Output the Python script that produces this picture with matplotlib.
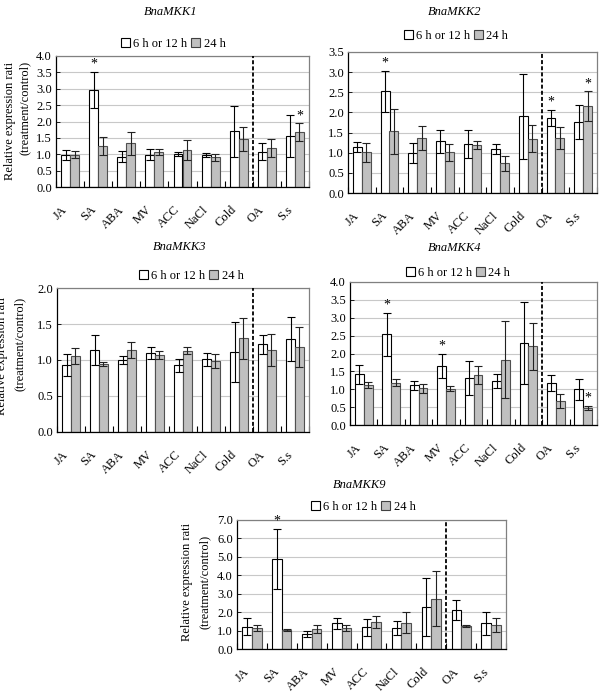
import numpy as np
import matplotlib.pyplot as plt
from matplotlib.patches import Patch

plt.rcParams["font.family"] = ["Liberation Serif", "DejaVu Serif"]
plt.rcParams["font.size"] = 9

# Daten
treatments = ["JA", "SA", "ABA", "MV", "ACC", "NaCl", "Cold", "OA", "S.s"]

mkk1_early = [0.97, 2.96, 0.92, 0.99, 1.01, 0.97, 1.70, 1.08, 1.55]
mkk1_early_sd = [0.16, 0.55, 0.17, 0.16, 0.05, 0.06, 0.78, 0.27, 0.64]
mkk1_late = [0.99, 1.26, 1.33, 1.07, 1.12, 0.91, 1.47, 1.19, 1.67]
mkk1_late_sd = [0.10, 0.27, 0.35, 0.10, 0.30, 0.11, 0.37, 0.28, 0.27]

mkk2_early = [1.14, 2.52, 0.99, 1.28, 1.21, 1.09, 1.90, 1.86, 1.76]
mkk2_early_sd = [0.12, 0.52, 0.25, 0.29, 0.35, 0.13, 1.06, 0.19, 0.43]
mkk2_late = [1.01, 1.53, 1.36, 1.01, 1.18, 0.74, 1.35, 1.36, 2.15]
mkk2_late_sd = [0.23, 0.56, 0.30, 0.21, 0.10, 0.19, 0.33, 0.28, 0.37]

mkk3_early = [0.93, 1.14, 1.00, 1.10, 0.93, 1.01, 1.11, 1.22, 1.29]
mkk3_early_sd = [0.15, 0.21, 0.05, 0.08, 0.09, 0.09, 0.42, 0.13, 0.31]
mkk3_late = [1.06, 0.94, 1.14, 1.07, 1.13, 0.99, 1.30, 1.14, 1.18]
mkk3_late_sd = [0.11, 0.03, 0.11, 0.05, 0.05, 0.10, 0.28, 0.22, 0.28]

mkk4_early = [1.42, 2.54, 1.11, 1.65, 1.32, 1.23, 2.29, 1.17, 1.00]
mkk4_early_sd = [0.27, 0.60, 0.12, 0.34, 0.47, 0.20, 1.15, 0.23, 0.30]
mkk4_late = [1.11, 1.18, 1.03, 1.02, 1.39, 1.83, 2.20, 0.67, 0.47]
mkk4_late_sd = [0.08, 0.10, 0.13, 0.07, 0.25, 1.08, 0.66, 0.20, 0.05]

mkk9_early = [1.21, 4.87, 0.81, 1.39, 1.17, 1.14, 2.27, 2.11, 1.39]
mkk9_early_sd = [0.45, 1.62, 0.16, 0.31, 0.47, 0.40, 1.56, 0.55, 0.64]
mkk9_late = [1.14, 1.03, 1.08, 1.14, 1.46, 1.43, 2.74, 1.25, 1.30]
mkk9_late_sd = [0.18, 0.05, 0.22, 0.16, 0.33, 0.58, 1.50, 0.07, 0.36]

# Signifikanz: (Kategorie-Index, 0=6/12 h, 1=24 h)
mkk1_sig = [(1, 0), (8, 1)]
mkk2_sig = [(1, 0), (7, 0), (8, 1)]
mkk3_sig = []
mkk4_sig = [(1, 0), (3, 0), (8, 1)]
mkk9_sig = [(1, 0)]

legend_labels = ["6 h or 12 h", "24 h"]
ylabel_1 = "Relative expression rati"
ylabel_2 = "(treatment/control)"

W, H = 600, 695


def px_rect(left, right, top, bottom):
    return [left / W, (H - bottom) / H, (right - left) / W, (bottom - top) / H]


def zeichne_panel(fig, rect, name, early, early_sd, late, late_sd, sig,
                  ymax, ystep, title_xy, legend_xy):
    ax = fig.add_axes(rect)
    x = np.arange(len(treatments))
    w = 0.32
    ax.bar(x - w / 2, early, w, color="white", edgecolor="black",
           linewidth=0.8, zorder=2)
    ax.bar(x + w / 2, late, w, color="#c0c0c0", edgecolor="#505050",
           linewidth=0.8, zorder=2)
    ax.errorbar(x - w / 2, early, yerr=early_sd, fmt="none", ecolor="black",
                elinewidth=0.8, capsize=2.6, capthick=0.8, zorder=3)
    ax.errorbar(x + w / 2, late, yerr=late_sd, fmt="none", ecolor="#222222",
                elinewidth=0.8, capsize=2.6, capthick=0.8, zorder=3)

    for i, s in sig:
        xs = x[i] + (w / 2 if s else -w / 2)
        top = (late[i] + late_sd[i]) if s else (early[i] + early_sd[i])
        ax.annotate("*", xy=(xs, top), xytext=(0, 1), textcoords="offset points",
                    ha="center", va="bottom", fontsize=10, zorder=4)

    ax.axvline(6.5, color="black", linestyle=(0, (2.2, 1.2)), linewidth=1.3,
               zorder=4)

    ax.set_xlim(-0.5, len(treatments) - 0.5)
    ax.set_ylim(0, ymax)
    ax.set_yticks(np.arange(0, ymax + ystep / 2, ystep))
    ax.yaxis.set_major_formatter(plt.FormatStrFormatter("%.1f"))
    ax.grid(axis="y", color="#c8c8c8", linewidth=0.8, zorder=0)
    ax.set_axisbelow(True)

    ax.set_xticks(x)
    ax.set_xticklabels(treatments, rotation=45, ha="right")
    ax.set_xticks(np.arange(len(treatments) + 1) - 0.5, minor=True)
    ax.tick_params(axis="x", which="major", length=0, pad=12, labelsize=9)
    ax.tick_params(axis="x", which="minor", direction="in", length=4,
                   width=0.8, color="black")
    ax.tick_params(axis="y", direction="in", length=3, width=0.6, pad=3,
                   labelsize=9)

    for side in ["left", "bottom"]:
        ax.spines[side].set_color("black")
        ax.spines[side].set_linewidth(0.9)
    for side in ["top", "right"]:
        ax.spines[side].set_color("#808080")
        ax.spines[side].set_linewidth(0.9)

    fig.text(title_xy[0] / W, 1 - title_xy[1] / H, name, style="italic",
             ha="center", va="center", fontsize=9)
    handles = [Patch(facecolor="white", edgecolor="black", linewidth=0.8),
               Patch(facecolor="#c0c0c0", edgecolor="#404040", linewidth=0.8)]
    fig.legend(handles, legend_labels, loc="center",
               bbox_to_anchor=(legend_xy[0] / W, 1 - legend_xy[1] / H),
               ncol=2, frameon=False, fontsize=9, handlelength=0.75,
               handleheight=0.75, handletextpad=0.25, columnspacing=0.3,
               borderpad=0, borderaxespad=0)
    return ax


def main():
    fig = plt.figure(figsize=(6.0, 6.95), dpi=100)

    zeichne_panel(fig, px_rect(56, 309, 56, 187), "BnaMKK1",
                  mkk1_early, mkk1_early_sd, mkk1_late, mkk1_late_sd,
                  mkk1_sig, 4.0, 0.5, (171, 12), (173, 44))
    zeichne_panel(fig, px_rect(348, 597, 52, 193), "BnaMKK2",
                  mkk2_early, mkk2_early_sd, mkk2_late, mkk2_late_sd,
                  mkk2_sig, 3.5, 0.5, (455, 12), (456, 36))
    zeichne_panel(fig, px_rect(57, 309, 288, 432), "BnaMKK3",
                  mkk3_early, mkk3_early_sd, mkk3_late, mkk3_late_sd,
                  mkk3_sig, 2.0, 0.5, (180, 247), (191, 276))
    zeichne_panel(fig, px_rect(350, 597, 282, 425), "BnaMKK4",
                  mkk4_early, mkk4_early_sd, mkk4_late, mkk4_late_sd,
                  mkk4_sig, 4.0, 0.5, (455, 248), (458, 273))
    zeichne_panel(fig, px_rect(237, 506, 520, 649), "BnaMKK9",
                  mkk9_early, mkk9_early_sd, mkk9_late, mkk9_late_sd,
                  mkk9_sig, 7.0, 1.0, (360, 485), (363, 507))

    # y-Achsenbeschriftungen (in Pixeln positioniert)
    for (x1, y1), (x2, y2) in [((10, 121), (25, 108)),
                               ((2, 356), (20, 344)),
                               ((187, 582), (205, 582))]:
        fig.text(x1 / W, 1 - y1 / H, ylabel_1, rotation=90, ha="center",
                 va="center", fontsize=9)
        fig.text(x2 / W, 1 - y2 / H, ylabel_2, rotation=90, ha="center",
                 va="center", fontsize=9)

    fig.savefig("out.png", dpi=100)


if __name__ == "__main__":
    main()
